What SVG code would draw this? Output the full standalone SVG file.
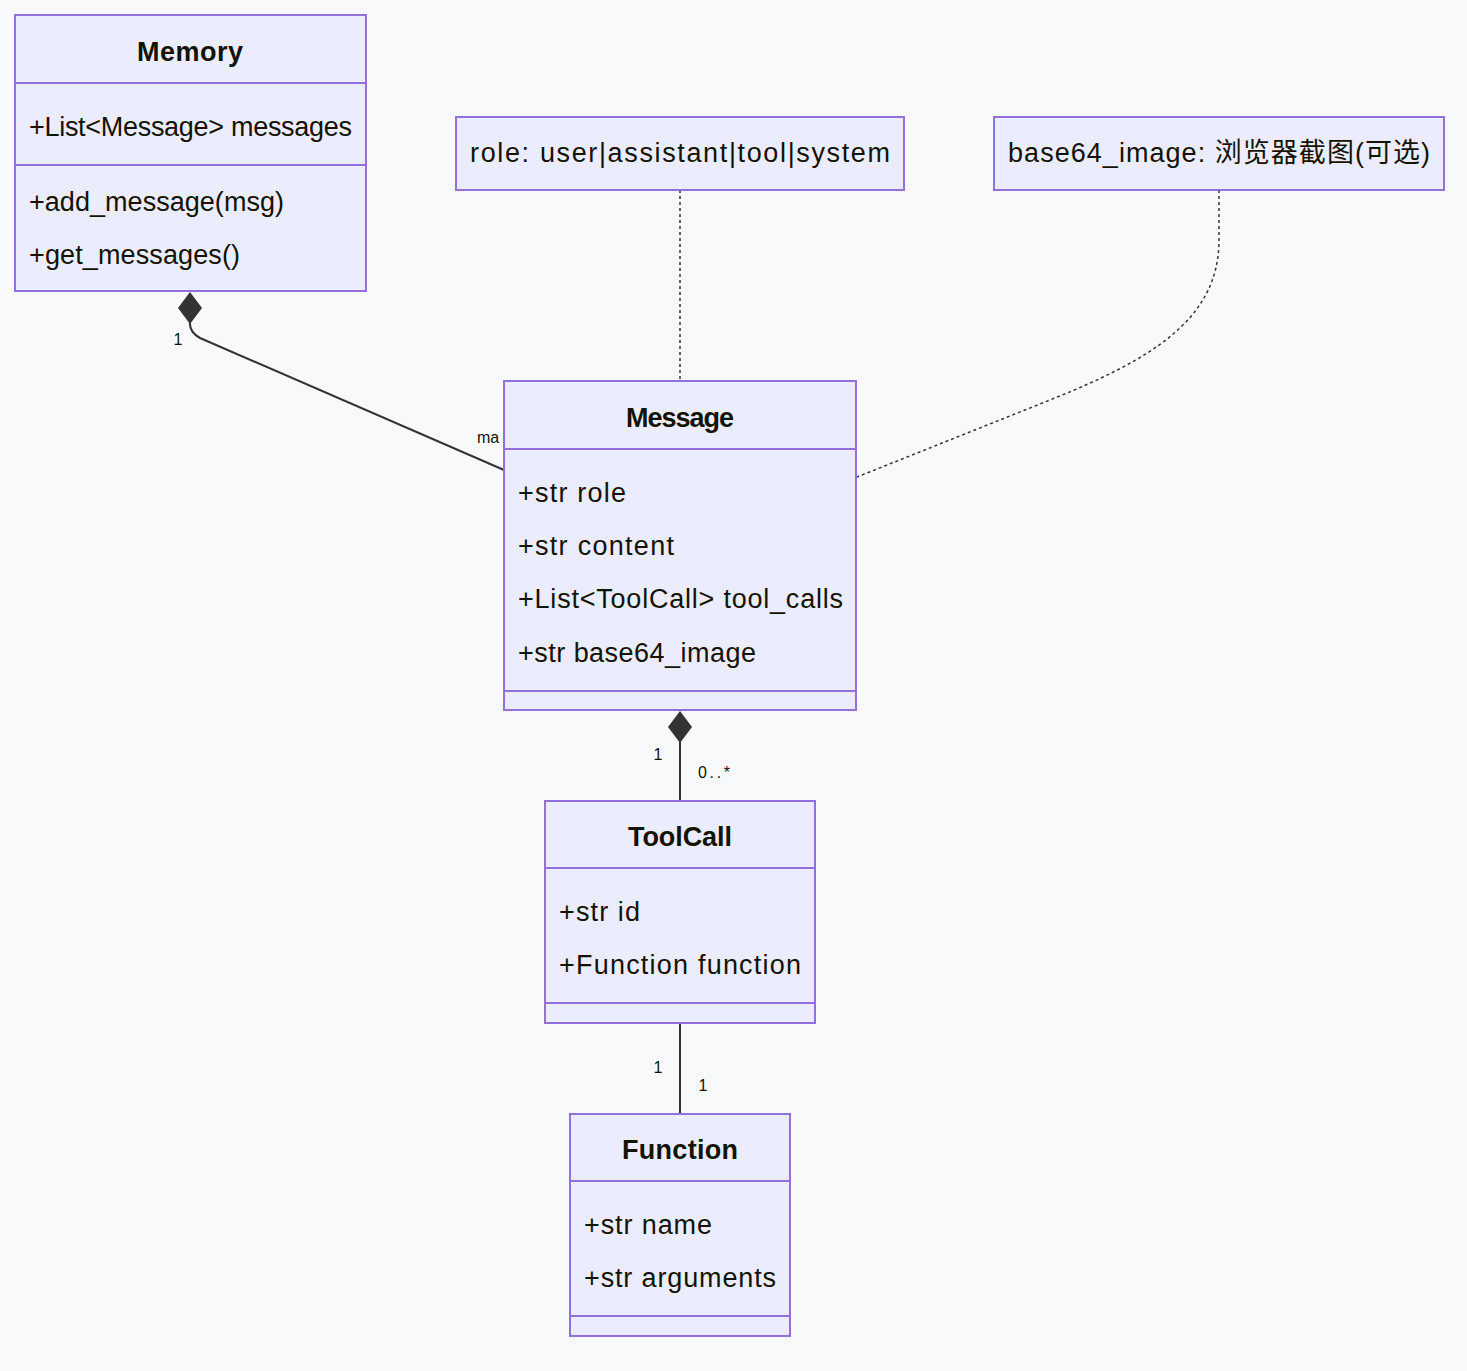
<svg xmlns="http://www.w3.org/2000/svg" width="1467" height="1371" viewBox="0 0 1467 1371">
<style>
.box{fill:#ECECFF;stroke:#9370DB;stroke-width:2}
.div{stroke:#9370DB;stroke-width:2}
.t{font-family:"Liberation Sans",Arial,sans-serif;font-size:27px;fill:#131300;dominant-baseline:central}
.title{font-weight:bold;text-anchor:middle}
.lbl{font-family:"Liberation Sans",Arial,sans-serif;font-size:16px;fill:#131300;dominant-baseline:central}
.edge{fill:none;stroke:#333;stroke-width:2}
.dot{fill:none;stroke:#333;stroke-width:1.5;stroke-dasharray:3 3}
</style>
<defs>
<path id="diamond" d="M0,0 L12,16 L0,32 L-12,16 Z" fill="#333"/>
</defs>
<rect width="1467" height="1371" fill="#F8F9FA"/>
<g id="connectors">
<path class="edge" d="M190,322 Q189,332 200,338 L504,470"/>
<use href="#diamond" x="190" y="292"/>
<path class="dot" d="M680,190 L680,381"/>
<path class="dot" d="M1219,190 L1219,240 C1219,320 1150,360 1050,400 L857,477"/>
<path class="edge" d="M680,740 L680,801"/>
<use href="#diamond" x="680" y="711"/>
<path class="edge" d="M680,1023 L680,1114"/>
<text class="lbl" x="178" y="339" text-anchor="middle">1</text>
<text class="lbl" x="477" y="437">ma</text>
<text class="lbl" x="658" y="754" text-anchor="middle">1</text>
<text class="lbl" x="698" y="772" textLength="32" lengthAdjust="spacing">0..*</text>
<text class="lbl" x="658" y="1067" text-anchor="middle">1</text>
<text class="lbl" x="703" y="1085" text-anchor="middle">1</text>
</g>
<g id="Memory">
<rect class="box" x="15" y="15" width="351" height="276"/>
<line class="div" x1="15" y1="83" x2="366" y2="83"/>
<line class="div" x1="15" y1="165" x2="366" y2="165"/>
<text class="t title" x="190" y="52" textLength="106" lengthAdjust="spacing">Memory</text>
<text class="t" x="29" y="127" textLength="323" lengthAdjust="spacing">+List&lt;Message&gt; messages</text>
<text class="t" x="29" y="202" textLength="255" lengthAdjust="spacing">+add_message(msg)</text>
<text class="t" x="29" y="255" textLength="211" lengthAdjust="spacing">+get_messages()</text>
</g>
<g id="NoteRole">
<rect class="box" x="456" y="117" width="448" height="73"/>
<text class="t" x="680" y="153" text-anchor="middle" textLength="420" lengthAdjust="spacing">role: user|assistant|tool|system</text>
</g>
<g id="NoteImage">
<rect class="box" x="994" y="117" width="450" height="73"/>
<text class="t" x="1219" y="153" text-anchor="middle" textLength="422" lengthAdjust="spacing" style="font-family:'Liberation Sans','Noto Sans CJK SC',sans-serif">base64_image: 浏览器截图(可选)</text>
</g>
<g id="Message">
<rect class="box" x="504" y="381" width="352" height="329"/>
<line class="div" x1="504" y1="449" x2="856" y2="449"/>
<line class="div" x1="504" y1="691" x2="856" y2="691"/>
<text class="t title" x="680" y="418" textLength="108" lengthAdjust="spacing">Message</text>
<text class="t" x="518" y="493" textLength="108" lengthAdjust="spacing">+str role</text>
<text class="t" x="518" y="546" textLength="156" lengthAdjust="spacing">+str content</text>
<text class="t" x="518" y="599" textLength="325" lengthAdjust="spacing">+List&lt;ToolCall&gt; tool_calls</text>
<text class="t" x="518" y="653" textLength="238" lengthAdjust="spacing">+str base64_image</text>
</g>
<g id="ToolCall">
<rect class="box" x="545" y="801" width="270" height="222"/>
<line class="div" x1="545" y1="868" x2="815" y2="868"/>
<line class="div" x1="545" y1="1003" x2="815" y2="1003"/>
<text class="t title" x="680" y="837" textLength="104" lengthAdjust="spacing">ToolCall</text>
<text class="t" x="559" y="912" textLength="81" lengthAdjust="spacing">+str id</text>
<text class="t" x="559" y="965" textLength="242" lengthAdjust="spacing">+Function function</text>
</g>
<g id="Function">
<rect class="box" x="570" y="1114" width="220" height="222"/>
<line class="div" x1="570" y1="1181" x2="790" y2="1181"/>
<line class="div" x1="570" y1="1316" x2="790" y2="1316"/>
<text class="t title" x="680" y="1150" textLength="116" lengthAdjust="spacing">Function</text>
<text class="t" x="584" y="1225" textLength="128" lengthAdjust="spacing">+str name</text>
<text class="t" x="584" y="1278" textLength="192" lengthAdjust="spacing">+str arguments</text>
</g>
</svg>
